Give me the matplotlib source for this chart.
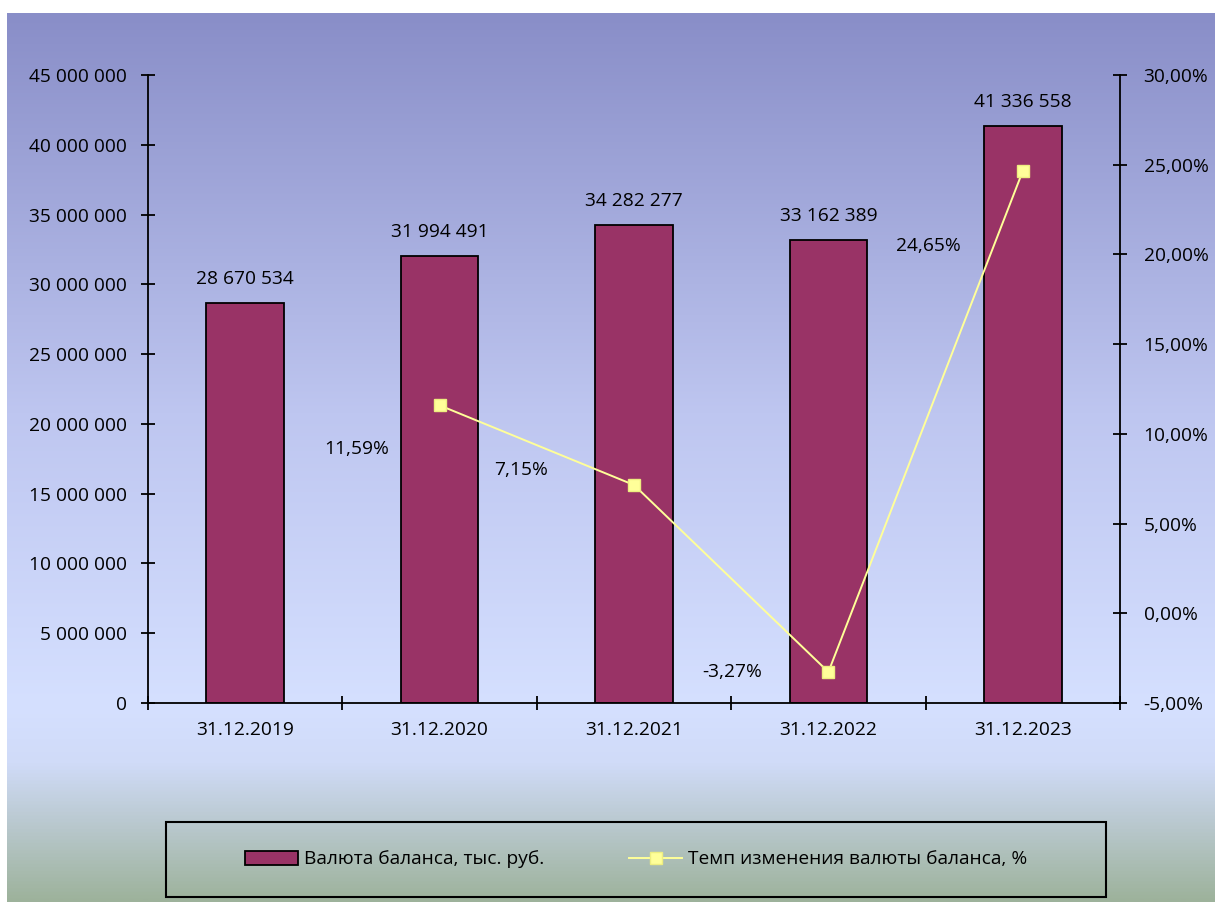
import matplotlib.pyplot as plt
import numpy as np
from matplotlib.colors import LinearSegmentedColormap
from matplotlib.patches import Rectangle
from matplotlib.lines import Line2D

plt.rcParams['font.family'] = ['Open Sans', 'DejaVu Sans']

dates = ['31.12.2019', '31.12.2020', '31.12.2021', '31.12.2022', '31.12.2023']
balance = [28670534, 31994491, 34282277, 33162389, 41336558]
growth = [None, 11.59, 7.15, -3.27, 24.65]
# label offsets for the growth labels, in pixels (dx, dy)
growth_offsets = [None, (-83, -44), (-113, 15), (-96, 0), (-94, -75)]

bar_label = 'Валюта баланса, тыс. руб.'
line_label = 'Темп изменения валюты баланса, %'

FS = 13.8
W, H = 1215, 902
fig = plt.figure(figsize=(W / 100, H / 100), dpi=100, facecolor='white')

# background gradient
bg = fig.add_axes([7 / W, 0, 1 - 7 / W, 1 - 13 / H])
bg.set_axis_off()
stops = [(0.0, (137, 142, 200)), (0.45, (190, 198, 240)), (0.78, (213, 224, 255)),
         (0.845, (208, 219, 248)), (1.0, (157, 178, 155))]
cmap = LinearSegmentedColormap.from_list(
    'bg', [(p, tuple(c / 255 for c in rgb)) for p, rgb in stops])
grad = np.linspace(0, 1, 512).reshape(-1, 1)
bg.imshow(grad, aspect='auto', cmap=cmap, extent=[0, 1, 1, 0])
bg.set_xlim(0, 1)
bg.set_ylim(1, 0)

ax = fig.add_axes([148 / W, 1 - 703 / H, (1120 - 148) / W, (703 - 75) / H])
ax.patch.set_alpha(0)
x = np.arange(len(dates))
bars = ax.bar(x, balance, width=0.4, color='#993366', edgecolor='black',
              linewidth=1.3, zorder=2)
ax.set_xlim(-0.5, len(dates) - 0.5)
ax.set_ylim(0, 45000000)
ax.set_yticks(np.arange(0, 45000001, 5000000))
ax.set_yticklabels(['{:,.0f}'.format(v).replace(',', ' ') for v in ax.get_yticks()])
ax.set_xticks(x)
ax.set_xticklabels(dates)
ax.set_xticks(np.arange(-0.5, len(dates)), minor=True)
ax.tick_params(axis='x', which='major', length=0, pad=13, labelsize=FS)
ax.tick_params(axis='x', which='minor', direction='inout', length=10, width=1.3)
ax.tick_params(axis='y', direction='inout', length=10, width=1.3, pad=10, labelsize=FS)
for s in ['top', 'right']:
    ax.spines[s].set_visible(False)
for s in ['left', 'bottom']:
    ax.spines[s].set_linewidth(1.3)

for xi, v in zip(x, balance):
    ax.annotate('{:,.0f}'.format(v).replace(',', ' '), (xi, v),
                xytext=(0, 15), textcoords='offset pixels',
                ha='center', va='bottom', fontsize=FS)

ax2 = ax.twinx()
ax2.set_ylim(-5, 30)
ax2.set_yticks(np.arange(-5, 31, 5))
ax2.set_yticklabels(['{:.2f}%'.format(v).replace('.', ',') for v in ax2.get_yticks()])
ax2.tick_params(axis='y', direction='inout', length=10, width=1.3, pad=12, labelsize=FS)
for s in ['top', 'left', 'bottom']:
    ax2.spines[s].set_visible(False)
ax2.spines['right'].set_linewidth(1.3)

gx = [xi for xi, g in zip(x, growth) if g is not None]
gy = [g for g in growth if g is not None]
ax2.plot(gx, gy, color='#ffff99', linewidth=1.4, marker='s', markersize=8,
         markerfacecolor='#ffff99', markeredgecolor='#eeee80', zorder=3)
for xi, g, off in zip(x, growth, growth_offsets):
    if g is None:
        continue
    ax2.annotate('{:.2f}%'.format(g).replace('.', ','), (xi, g),
                 xytext=off, textcoords='offset pixels',
                 ha='center', va='center', fontsize=FS)

# legend box
lax = fig.add_axes([166 / W, 1 - 897 / H, (1106 - 166) / W, (897 - 822) / H])
lax.set_axis_off()
lax.add_patch(Rectangle((0, 0), 1, 1, transform=lax.transAxes, fill=False,
                        edgecolor='black', linewidth=1.5, clip_on=False))
handles = [Rectangle((0, 0), 1, 1, facecolor='#993366', edgecolor='black', linewidth=1.3),
           Line2D([], [], color='#ffff99', linewidth=1.4, marker='s', markersize=8,
                  markerfacecolor='#ffff99', markeredgecolor='#eeee80')]
lax.legend(handles, [bar_label, line_label], loc='center', ncol=2, frameon=False,
           fontsize=FS, handlelength=2.8, handletextpad=0.3, columnspacing=4.4)

fig.savefig('out.png', dpi=100, facecolor='white')
